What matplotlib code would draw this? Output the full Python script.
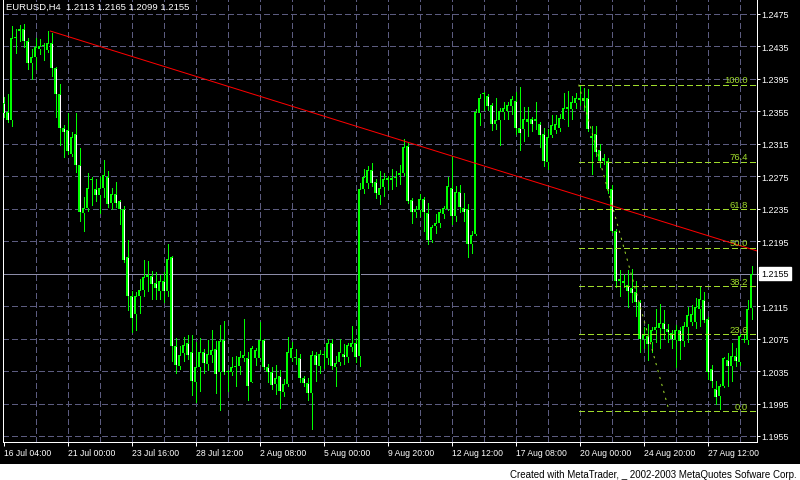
import matplotlib
matplotlib.use('Agg')
import matplotlib.pyplot as plt
import matplotlib.transforms as mtransforms
from matplotlib.patches import Rectangle
import numpy as np

plt.rcParams['font.family'] = ['Liberation Sans', 'DejaVu Sans']
plt.rcParams['lines.scale_dashes'] = False

symbol_title = "EURUSD,H4  1.2113 1.2165 1.2099 1.2155"
copyright_text = "Created with MetaTrader, _ 2002-2003 MetaQuotes Sofware Corp."

opens = [
    1.2365, 1.2354, 1.2344, 1.2446, 1.2454, 1.2456, 1.2442, 1.2414, 1.2422, 1.2432,
    1.2435, 1.2431, 1.2439, 1.2408, 1.2377, 1.2335, 1.2332, 1.2303, 1.2327, 1.2289,
    1.2230, 1.2236, 1.2270, 1.2259, 1.2252, 1.2261, 1.2274, 1.2242, 1.2253, 1.2244,
    1.2235, 1.2175, 1.2128, 1.2105, 1.2128, 1.2135, 1.2151, 1.2152, 1.2144, 1.2134,
    1.2146, 1.2134, 1.2175, 1.2066, 1.2041, 1.2057, 1.2070, 1.2058, 1.2022, 1.2040,
    1.2058, 1.2044, 1.2055, 1.2062, 1.2034, 1.2073, 1.2035, 1.2034, 1.2040, 1.2041,
    1.2051, 1.2051, 1.2022, 1.2051, 1.2051, 1.2073, 1.2040, 1.2034, 1.2019, 1.2029,
    1.2009, 1.2019, 1.2051, 1.2052, 1.2051, 1.2027, 1.2020, 1.2008, 1.2055, 1.2041,
    1.2055, 1.2051, 1.2070, 1.2040, 1.2046, 1.2056, 1.2052, 1.2065, 1.2070, 1.2054,
    1.2259, 1.2267, 1.2283, 1.2268, 1.2252, 1.2262, 1.2271, 1.2273, 1.2273, 1.2276,
    1.2279, 1.2312, 1.2246, 1.2231, 1.2234, 1.2247, 1.2230, 1.2196, 1.2214, 1.2218,
    1.2229, 1.2235, 1.2261, 1.2226, 1.2256, 1.2236, 1.2235, 1.2192, 1.2204, 1.2353,
    1.2376, 1.2374, 1.2363, 1.2339, 1.2344, 1.2354, 1.2356, 1.2362, 1.2368, 1.2335,
    1.2333, 1.2345, 1.2345, 1.2343, 1.2339, 1.2327, 1.2293, 1.2326, 1.2332, 1.2334,
    1.2346, 1.2358, 1.2358, 1.2365, 1.2369, 1.2368, 1.2371, 1.2325, 1.2327, 1.2308,
    1.2294, 1.2294, 1.2259, 1.2208, 1.2146, 1.2146, 1.2141, 1.2137, 1.2132, 1.2120,
    1.2075, 1.2078, 1.2071, 1.2085, 1.2088, 1.2094, 1.2087, 1.2082, 1.2073, 1.2086,
    1.2072, 1.2089, 1.2095, 1.2096, 1.2112, 1.2122, 1.2099, 1.2038, 1.2013, 1.2004,
    1.2016, 1.2049, 1.2041, 1.2054, 1.2046, 1.2073, 1.2073, 1.2113,
]
highs = [
    1.2373, 1.2377, 1.2460, 1.2457, 1.2461, 1.2463, 1.2446, 1.2432, 1.2445, 1.2444,
    1.2439, 1.2454, 1.2452, 1.2410, 1.2389, 1.2338, 1.2353, 1.2329, 1.2353, 1.2310,
    1.2250, 1.2279, 1.2274, 1.2272, 1.2274, 1.2295, 1.2282, 1.2261, 1.2268, 1.2246,
    1.2239, 1.2197, 1.2134, 1.2132, 1.2148, 1.2172, 1.2171, 1.2158, 1.2157, 1.2153,
    1.2157, 1.2192, 1.2177, 1.2076, 1.2066, 1.2077, 1.2079, 1.2079, 1.2071, 1.2076,
    1.2062, 1.2073, 1.2086, 1.2072, 1.2092, 1.2097, 1.2036, 1.2052, 1.2054, 1.2060,
    1.2099, 1.2058, 1.2066, 1.2064, 1.2095, 1.2075, 1.2044, 1.2040, 1.2042, 1.2036,
    1.2025, 1.2077, 1.2071, 1.2062, 1.2056, 1.2029, 1.2027, 1.2060, 1.2058, 1.2061,
    1.2060, 1.2075, 1.2075, 1.2054, 1.2074, 1.2068, 1.2070, 1.2091, 1.2075, 1.2267,
    1.2284, 1.2288, 1.2291, 1.2272, 1.2281, 1.2279, 1.2275, 1.2284, 1.2282, 1.2289,
    1.2321, 1.2317, 1.2248, 1.2238, 1.2253, 1.2249, 1.2242, 1.2215, 1.2229, 1.2235,
    1.2238, 1.2274, 1.2300, 1.2263, 1.2264, 1.2254, 1.2241, 1.2208, 1.2358, 1.2376,
    1.2379, 1.2376, 1.2365, 1.2371, 1.2359, 1.2366, 1.2366, 1.2374, 1.2379, 1.2385,
    1.2360, 1.2360, 1.2348, 1.2367, 1.2342, 1.2335, 1.2333, 1.2350, 1.2350, 1.2352,
    1.2378, 1.2380, 1.2374, 1.2378, 1.2388, 1.2384, 1.2382, 1.2337, 1.2337, 1.2315,
    1.2302, 1.2297, 1.2264, 1.2210, 1.2159, 1.2155, 1.2159, 1.2161, 1.2146, 1.2122,
    1.2089, 1.2093, 1.2089, 1.2112, 1.2118, 1.2110, 1.2093, 1.2085, 1.2092, 1.2089,
    1.2095, 1.2114, 1.2116, 1.2125, 1.2138, 1.2133, 1.2101, 1.2042, 1.2023, 1.2019,
    1.2052, 1.2057, 1.2070, 1.2064, 1.2081, 1.2081, 1.2123, 1.2165,
]
lows = [
    1.2348, 1.2342, 1.2337, 1.2427, 1.2442, 1.2434, 1.2407, 1.2395, 1.2407, 1.2426,
    1.2418, 1.2428, 1.2399, 1.2348, 1.2314, 1.2299, 1.2302, 1.2300, 1.2280, 1.2220,
    1.2208, 1.2232, 1.2240, 1.2245, 1.2230, 1.2250, 1.2237, 1.2235, 1.2237, 1.2216,
    1.2170, 1.2110, 1.2083, 1.2086, 1.2106, 1.2128, 1.2134, 1.2124, 1.2124, 1.2124,
    1.2120, 1.2128, 1.2048, 1.2032, 1.2038, 1.2048, 1.2050, 1.2005, 1.1997, 1.2011,
    1.2033, 1.2036, 1.2046, 1.2008, 1.1987, 1.2031, 1.2011, 1.2030, 1.2017, 1.2031,
    1.2048, 1.1999, 1.2021, 1.2042, 1.2050, 1.2037, 1.2021, 1.2013, 1.2007, 1.1990,
    1.2004, 1.2017, 1.2048, 1.2044, 1.2021, 1.2017, 1.1999, 1.1964, 1.2023, 1.2033,
    1.2039, 1.2044, 1.2037, 1.2017, 1.2042, 1.2044, 1.2046, 1.2060, 1.2046, 1.2041,
    1.2254, 1.2261, 1.2263, 1.2248, 1.2241, 1.2251, 1.2259, 1.2259, 1.2263, 1.2266,
    1.2276, 1.2242, 1.2218, 1.2225, 1.2226, 1.2208, 1.2191, 1.2194, 1.2205, 1.2212,
    1.2223, 1.2234, 1.2216, 1.2220, 1.2231, 1.2220, 1.2175, 1.2181, 1.2203, 1.2338,
    1.2357, 1.2357, 1.2332, 1.2333, 1.2314, 1.2346, 1.2345, 1.2352, 1.2327, 1.2308,
    1.2319, 1.2325, 1.2331, 1.2333, 1.2311, 1.2288, 1.2284, 1.2323, 1.2328, 1.2331,
    1.2345, 1.2337, 1.2346, 1.2359, 1.2363, 1.2357, 1.2331, 1.2278, 1.2300, 1.2287,
    1.2290, 1.2255, 1.2206, 1.2138, 1.2128, 1.2138, 1.2114, 1.2120, 1.2103, 1.2059,
    1.2064, 1.2049, 1.2058, 1.2071, 1.2064, 1.2075, 1.2071, 1.2063, 1.2040, 1.2050,
    1.2066, 1.2071, 1.2092, 1.2088, 1.2091, 1.2095, 1.2025, 1.2015, 1.1995, 1.1988,
    1.2015, 1.2017, 1.2023, 1.2041, 1.2042, 1.2071, 1.2068, 1.2099,
]
closes = [
    1.2353, 1.2344, 1.2446, 1.2445, 1.2457, 1.2442, 1.2414, 1.2422, 1.2434, 1.2436,
    1.2436, 1.2439, 1.2408, 1.2376, 1.2335, 1.2330, 1.2306, 1.2324, 1.2289, 1.2231,
    1.2236, 1.2261, 1.2271, 1.2252, 1.2261, 1.2276, 1.2241, 1.2253, 1.2242, 1.2235,
    1.2172, 1.2127, 1.2100, 1.2127, 1.2135, 1.2151, 1.2153, 1.2142, 1.2137, 1.2146,
    1.2134, 1.2173, 1.2066, 1.2042, 1.2055, 1.2067, 1.2055, 1.2023, 1.2040, 1.2058,
    1.2045, 1.2056, 1.2061, 1.2031, 1.2072, 1.2034, 1.2034, 1.2040, 1.2041, 1.2052,
    1.2055, 1.2016, 1.2063, 1.2061, 1.2073, 1.2040, 1.2034, 1.2018, 1.2027, 1.2010,
    1.2019, 1.2058, 1.2063, 1.2051, 1.2026, 1.2020, 1.2008, 1.2055, 1.2042, 1.2056,
    1.2056, 1.2070, 1.2041, 1.2045, 1.2058, 1.2052, 1.2067, 1.2070, 1.2052, 1.2259,
    1.2274, 1.2283, 1.2267, 1.2255, 1.2261, 1.2272, 1.2273, 1.2270, 1.2274, 1.2279,
    1.2311, 1.2244, 1.2231, 1.2235, 1.2247, 1.2231, 1.2196, 1.2213, 1.2218, 1.2231,
    1.2236, 1.2263, 1.2226, 1.2256, 1.2237, 1.2231, 1.2192, 1.2203, 1.2354, 1.2372,
    1.2378, 1.2362, 1.2339, 1.2344, 1.2355, 1.2359, 1.2363, 1.2370, 1.2335, 1.2328,
    1.2345, 1.2342, 1.2339, 1.2345, 1.2326, 1.2294, 1.2324, 1.2338, 1.2339, 1.2347,
    1.2359, 1.2360, 1.2367, 1.2371, 1.2372, 1.2371, 1.2333, 1.2322, 1.2305, 1.2294,
    1.2297, 1.2259, 1.2208, 1.2146, 1.2148, 1.2143, 1.2134, 1.2131, 1.2120, 1.2075,
    1.2079, 1.2068, 1.2085, 1.2089, 1.2094, 1.2087, 1.2083, 1.2075, 1.2086, 1.2072,
    1.2090, 1.2104, 1.2105, 1.2114, 1.2124, 1.2098, 1.2034, 1.2023, 1.2003, 1.2016,
    1.2051, 1.2041, 1.2054, 1.2047, 1.2078, 1.2075, 1.2111, 1.2155,
]

date_labels = ['16 Jul 04:00', '21 Jul 00:00', '23 Jul 16:00', '28 Jul 12:00',
               '2 Aug 08:00', '5 Aug 00:00', '9 Aug 20:00', '12 Aug 12:00',
               '17 Aug 08:00', '20 Aug 00:00', '24 Aug 20:00', '27 Aug 12:00']
date_label_bars = [0, 16, 32, 48, 64, 80, 96, 112, 128, 144, 160, 176]
grid_bars = [8, 16, 24, 32, 40, 48, 56, 64, 72, 80, 88, 96, 104, 112, 120,
             128, 136, 144, 152, 160, 168, 176, 184]
price_ticks = [1.1955, 1.1995, 1.2035, 1.2075, 1.2115, 1.2155, 1.2195,
               1.2235, 1.2275, 1.2315, 1.2355, 1.2395, 1.2435, 1.2475]
current_price = 1.2155

fib_high = 1.2388
fib_low = 1.1986
fib_levels = [0.0, 23.6, 38.2, 50.0, 61.8, 76.4, 100.0]
fib_start_bar = 143.8
fib_diag_bars = [143.8, 166.4]

trend_bars = [11.7, 188.4]
trend_prices = [1.2454, 1.2183]

# ---------------------------------------------------------------------------
W, H = 800, 481
PX = 0.72  # one pixel in points at dpi 100
lime = '#00ff00'
gridc = '#5c5c80'
fibc = '#a0dc2c'

fig = plt.figure(figsize=(W / 100, H / 100), dpi=100, facecolor='black')
fig.patches.append(Rectangle((0, 0), 1, 16 / H, transform=fig.transFigure,
                             facecolor='white', edgecolor='none', zorder=-5))

ax = fig.add_axes([3 / W, 1 - 443 / H, 754 / W, 442 / H], facecolor='black')
ax.set_xlim(-0.125, -0.125 + 754 / 4)
ylo, yhi = 1.194758, 1.249225
ax.set_ylim(ylo, yhi)
ppx = (yhi - ylo) / 442.0   # price per pixel

# grid
for p in price_ticks:
    ax.axhline(p, color=gridc, lw=PX, ls=(0, (3.6, 2.2)), zorder=1,
               antialiased=False)
for b in grid_bars:
    ax.axvline(b, color=gridc, lw=PX, ls=(0, (3.6, 2.2)), zorder=1,
               antialiased=False)

# current price line
ax.axhline(current_price, color='#8c8ca8', lw=PX, zorder=2, antialiased=False)

# candles: lime wick, 3px lime body with 1px inner fill (black = up, white = down)
o = np.array(opens)
c = np.array(closes)
x = np.arange(len(o))
bull = c >= o
btm = np.minimum(o, c)
top = np.maximum(o, c)
ax.vlines(x, lows, highs, color=lime, lw=PX, zorder=3, antialiased=False)
ax.bar(x, np.maximum(top - btm, ppx), bottom=btm, width=0.75,
       color=lime, edgecolor='none', zorder=4, antialiased=False)
inner = (top - btm) > 2.5 * ppx
ax.vlines(x[inner], btm[inner] + ppx, top[inner] - ppx,
          colors=np.where(bull[inner], 'black', 'white'), lw=PX, zorder=5,
          antialiased=False)

# trend line
ax.plot(trend_bars, trend_prices, color='#ff0000', lw=PX, zorder=6)

# fibonacci
xmax = ax.get_xlim()[1]
for lvl in fib_levels:
    p = fib_low + (fib_high - fib_low) * lvl / 100.0
    ax.plot([fib_start_bar, xmax], [p, p], color=fibc, lw=PX,
            ls=(0, (3.6, 2.2)), zorder=6, antialiased=False)
    ax.text(186.1, p + 0.3 * ppx, f'{lvl:.1f}', ha='right', va='bottom',
            color=fibc, fontsize=6.8, zorder=7)
ax.plot(fib_diag_bars, [fib_high, fib_low], color=fibc, lw=PX,
        ls=(0, (1.6, 3.6)), zorder=6)

# axes styling
ax.yaxis.tick_right()
ax.set_yticks(price_ticks)
ax.set_yticklabels(['' if abs(p - current_price) < 1e-6 else f'{p:.4f}'
                    for p in price_ticks])
ax.set_xticks(date_label_bars)
ax.set_xticklabels(date_labels, ha='left')
ax.tick_params(axis='y', colors='white', length=2.2, width=PX, pad=1,
               labelsize=6.5)
ax.tick_params(axis='x', colors='white', length=2.9, width=PX, pad=1.5,
               labelsize=6.2)
for s in ['left', 'bottom', 'right']:
    ax.spines[s].set_color('white')
    ax.spines[s].set_linewidth(PX)
ax.spines['top'].set_visible(False)

# current price box
trans = mtransforms.blended_transform_factory(ax.transAxes, ax.transData)
ax.text(1.0 + 4 / 754, current_price, '1.2155', transform=trans, ha='left',
        va='center', color='black', fontsize=6.5, clip_on=False, zorder=8,
        bbox=dict(boxstyle='square,pad=0.25', facecolor='white',
                  edgecolor='white'))

# title and footer
fig.text(6 / W, 1 - 3 / H, symbol_title, color='white', fontsize=6.8,
         ha='left', va='top')
fig.text(797 / W, 1 - 478 / H, copyright_text, color='black', fontsize=7,
         ha='right', va='baseline')

fig.savefig('out.png', dpi=100, facecolor='black')
